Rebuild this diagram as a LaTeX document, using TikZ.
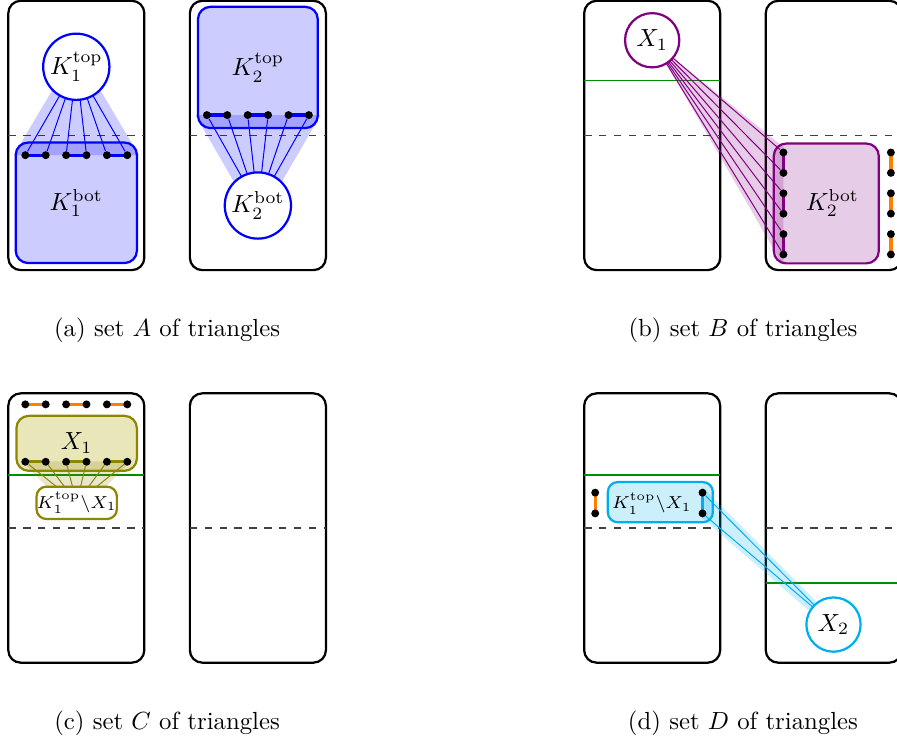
\documentclass[tikz,border=0pt]{standalone}
\usepackage{amsmath}
\usepackage{tikz}

\definecolor{grape}{RGB}{128,0,128}
\definecolor{sky}{RGB}{0,174,239}

\pgfdeclarelayer{back}
\pgfdeclarelayer{fan}
\pgfsetlayers{back,fan,main}

\tikzset{
slot/.style={draw=black,line width=0.9pt,rounded corners=5pt},
midline/.style={dashed,black!75,line width=0.6pt},
gline/.style={green!55!black,line width=0.6pt},
vtx/.style={circle,fill=black,inner sep=0pt,minimum size=3.2pt},
blob/.style={rectangle,rounded corners=5pt,draw=#1,fill=#1!20,line width=0.9pt,inner sep=0pt},
ball/.style={circle,draw=#1,fill=white,line width=0.9pt,inner sep=0pt},
ray/.style={#1,line width=0.4pt},
wash/.style={fill=#1,fill opacity=0.2},
pair/.style={#1,line width=1.3pt}
}

\begin{document}
\begin{tikzpicture}[x=0.965cm,y=0.965cm]
\useasboundingbox (0,0) rectangle (13.19,-11.01);

% (a) set A
\begin{scope}[shift={(0.122,-0.012)}]
\begin{pgfonlayer}{back}
\draw[slot] (0,0) rectangle (2,-3.96);
\draw[slot] (2.67,0) rectangle (4.67,-3.96);
\draw[midline] (0,-1.98) -- (2,-1.98);
\draw[midline] (2.67,-1.98) -- (4.67,-1.98);
\node[blob=blue,minimum width=1.72cm,minimum height=1.71cm] (ka1b) at (1,-2.97) {$K_1^{\text{bot}}$};
\node[blob=blue,minimum width=1.70cm,minimum height=1.72cm] (ka2t) at (3.67,-0.98) {$K_2^{\text{top}}$};
\end{pgfonlayer}
\node[ball=blue,minimum size=0.94cm] (ka1t) at (1,-0.97) {$K_1^{\text{top}}$};
\node[ball=blue,minimum size=0.94cm] (ka2b) at (3.67,-3.01) {$K_2^{\text{bot}}$};
\node[vtx] (a1) at (0.25,-2.27) {};
\node[vtx] (a2) at (0.55,-2.27) {};
\node[vtx] (a3) at (0.85,-2.27) {};
\node[vtx] (a4) at (1.15,-2.27) {};
\node[vtx] (a5) at (1.45,-2.27) {};
\node[vtx] (a6) at (1.75,-2.27) {};
\node[vtx] (b1) at (2.92,-1.68) {};
\node[vtx] (b2) at (3.22,-1.68) {};
\node[vtx] (b3) at (3.52,-1.68) {};
\node[vtx] (b4) at (3.82,-1.68) {};
\node[vtx] (b5) at (4.12,-1.68) {};
\node[vtx] (b6) at (4.42,-1.68) {};
\begin{pgfonlayer}{fan}
\fill[wash=blue] (0.85,-0.97) -- (0.08,-2.27) -- (1.92,-2.27) -- (1.15,-0.97) -- cycle;
\fill[wash=blue] (2.75,-1.68) -- (4.59,-1.68) -- (3.82,-3.01) -- (3.52,-3.01) -- cycle;
\draw[ray=blue] (ka1t.center) -- (a1);
\draw[ray=blue] (ka1t.center) -- (a2);
\draw[ray=blue] (ka1t.center) -- (a3);
\draw[ray=blue] (ka1t.center) -- (a4);
\draw[ray=blue] (ka1t.center) -- (a5);
\draw[ray=blue] (ka1t.center) -- (a6);
\draw[ray=blue] (ka2b.center) -- (b1);
\draw[ray=blue] (ka2b.center) -- (b2);
\draw[ray=blue] (ka2b.center) -- (b3);
\draw[ray=blue] (ka2b.center) -- (b4);
\draw[ray=blue] (ka2b.center) -- (b5);
\draw[ray=blue] (ka2b.center) -- (b6);
\draw[pair=blue] (a1.center) -- (a2.center);
\draw[pair=blue] (a3.center) -- (a4.center);
\draw[pair=blue] (a5.center) -- (a6.center);
\draw[pair=blue] (b1.center) -- (b2.center);
\draw[pair=blue] (b3.center) -- (b4.center);
\draw[pair=blue] (b5.center) -- (b6.center);
\end{pgfonlayer}
\node[anchor=base] (capa) at (2.335,-4.94) {(a) set $A$ of triangles};
\end{scope}

% (b) set B
\begin{scope}[shift={(8.59,-0.012)}]
\begin{pgfonlayer}{back}
\draw[slot] (0,0) rectangle (2,-3.96);
\draw[slot] (2.67,0) rectangle (4.67,-3.96);
\draw[midline] (0,-1.98) -- (2,-1.98);
\draw[midline] (2.67,-1.98) -- (4.67,-1.98);
\draw[gline] (0,-1.175) -- (2,-1.175);
\node[blob=grape,minimum width=1.49cm,minimum height=1.70cm] (kb2b) at (3.56,-2.98) {};
\end{pgfonlayer}
\node (kb2bl) at (3.65,-2.97) {$K_2^{\text{bot}}$};
\node[ball=grape,minimum size=0.77cm] (xb1) at (1,-0.58) {$X_1$};
\node[vtx] (c1) at (2.93,-2.23) {};
\node[vtx] (c2) at (2.93,-2.53) {};
\node[vtx] (c3) at (2.93,-2.83) {};
\node[vtx] (c4) at (2.93,-3.13) {};
\node[vtx] (c5) at (2.93,-3.43) {};
\node[vtx] (c6) at (2.93,-3.73) {};
\node[vtx] (o1) at (4.51,-2.23) {};
\node[vtx] (o2) at (4.51,-2.53) {};
\node[vtx] (o3) at (4.51,-2.83) {};
\node[vtx] (o4) at (4.51,-3.13) {};
\node[vtx] (o5) at (4.51,-3.43) {};
\node[vtx] (o6) at (4.51,-3.73) {};
\begin{pgfonlayer}{fan}
\fill[wash=grape] (0.95,-0.55) -- (2.93,-2.15) -- (2.93,-3.9) -- (1.05,-0.65) -- cycle;
\draw[ray=grape] (xb1.center) -- (c1);
\draw[ray=grape] (xb1.center) -- (c2);
\draw[ray=grape] (xb1.center) -- (c3);
\draw[ray=grape] (xb1.center) -- (c4);
\draw[ray=grape] (xb1.center) -- (c5);
\draw[ray=grape] (xb1.center) -- (c6);
\draw[pair=grape] (c1.center) -- (c2.center);
\draw[pair=grape] (c3.center) -- (c4.center);
\draw[pair=grape] (c5.center) -- (c6.center);
\draw[pair=orange] (o1.center) -- (o2.center);
\draw[pair=orange] (o3.center) -- (o4.center);
\draw[pair=orange] (o5.center) -- (o6.center);
\end{pgfonlayer}
\node[anchor=base] (capb) at (2.335,-4.94) {(b) set $B$ of triangles};
\end{scope}

% (c) set C
\begin{scope}[shift={(0.122,-5.784)}]
\begin{pgfonlayer}{back}
\draw[slot] (0,0) rectangle (2,-3.96);
\draw[slot] (2.67,0) rectangle (4.67,-3.96);
\draw[midline] (0,-1.98) -- (2,-1.98);
\draw[midline] (2.67,-1.98) -- (4.67,-1.98);
\draw[gline] (0,-1.2) -- (2,-1.2);
\node[blob=olive,minimum width=1.71cm,minimum height=0.78cm] (xc1) at (1.005,-0.735) {$X_1$};
\end{pgfonlayer}
\node[rectangle,rounded corners=4pt,draw=olive,fill=white,line width=0.9pt,inner sep=0pt,
minimum width=1.14cm,minimum height=0.46cm,font=\scriptsize] (kc1) at (1.006,-1.61) {$K_1^{\text{top}}\backslash X_1$};
\node[vtx] (e1) at (0.25,-0.162) {};
\node[vtx] (e2) at (0.55,-0.162) {};
\node[vtx] (e3) at (0.85,-0.162) {};
\node[vtx] (e4) at (1.15,-0.162) {};
\node[vtx] (e5) at (1.45,-0.162) {};
\node[vtx] (e6) at (1.75,-0.162) {};
\node[vtx] (f1) at (0.25,-1.006) {};
\node[vtx] (f2) at (0.55,-1.006) {};
\node[vtx] (f3) at (0.85,-1.006) {};
\node[vtx] (f4) at (1.15,-1.006) {};
\node[vtx] (f5) at (1.45,-1.006) {};
\node[vtx] (f6) at (1.75,-1.006) {};
\begin{pgfonlayer}{fan}
\fill[wash=olive] (0.2,-1.0) -- (1.8,-1.0) -- (1.2,-1.61) -- (0.8,-1.61) -- cycle;
\draw[ray=olive] (kc1.center) -- (f1);
\draw[ray=olive] (kc1.center) -- (f2);
\draw[ray=olive] (kc1.center) -- (f3);
\draw[ray=olive] (kc1.center) -- (f4);
\draw[ray=olive] (kc1.center) -- (f5);
\draw[ray=olive] (kc1.center) -- (f6);
\draw[pair=orange] (e1.center) -- (e2.center);
\draw[pair=orange] (e3.center) -- (e4.center);
\draw[pair=orange] (e5.center) -- (e6.center);
\draw[pair=olive] (f1.center) -- (f2.center);
\draw[pair=olive] (f3.center) -- (f4.center);
\draw[pair=olive] (f5.center) -- (f6.center);
\end{pgfonlayer}
\node[anchor=base] (capc) at (2.335,-4.94) {(c) set $C$ of triangles};
\end{scope}

% (d) set D
\begin{scope}[shift={(8.59,-5.784)}]
\begin{pgfonlayer}{back}
\draw[slot] (0,0) rectangle (2,-3.96);
\draw[slot] (2.67,0) rectangle (4.67,-3.96);
\draw[midline] (0,-1.98) -- (2,-1.98);
\draw[midline] (2.67,-1.98) -- (4.67,-1.98);
\draw[gline] (0,-1.2) -- (2,-1.2);
\draw[gline] (2.67,-2.79) -- (4.67,-2.79);
\node[blob=sky,rounded corners=4pt,minimum width=1.49cm,minimum height=0.57cm] (kd1) at (1.12,-1.60) {};
\end{pgfonlayer}
\node[font=\scriptsize] (kd1l) at (0.995,-1.62) {$K_1^{\text{top}}\backslash X_1$};
\node[ball=sky,minimum size=0.77cm] (xd2) at (3.666,-3.40) {$X_2$};
\node[vtx] (g1) at (1.74,-1.46) {};
\node[vtx] (g2) at (1.74,-1.765) {};
\node[vtx] (h1) at (0.162,-1.46) {};
\node[vtx] (h2) at (0.162,-1.765) {};
\begin{pgfonlayer}{fan}
\fill[wash=sky] (1.74,-1.38) -- (3.7,-3.35) -- (3.6,-3.45) -- (1.73,-1.83) -- cycle;
\draw[ray=sky] (xd2.center) -- (g1);
\draw[ray=sky] (xd2.center) -- (g2);
\draw[pair=sky] (g1.center) -- (g2.center);
\draw[pair=orange] (h1.center) -- (h2.center);
\end{pgfonlayer}
\node[anchor=base] (capd) at (2.335,-4.94) {(d) set $D$ of triangles};
\end{scope}
\end{tikzpicture}
\end{document}
